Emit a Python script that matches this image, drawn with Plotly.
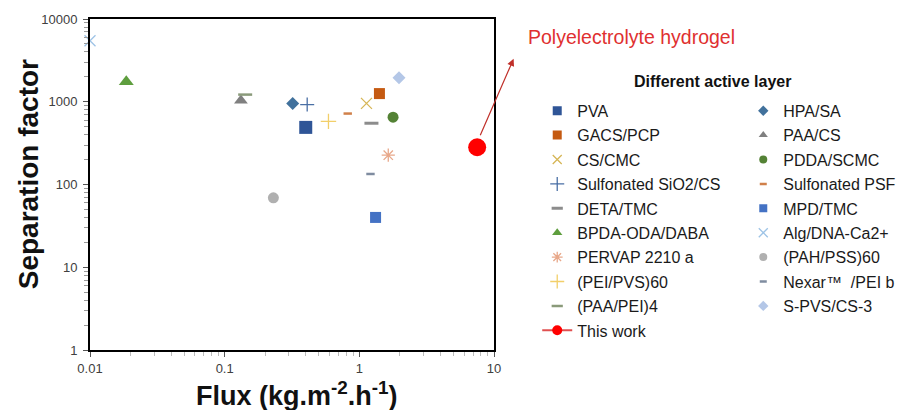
import plotly.graph_objects as go

# ---- data ----
names = ["PVA", "HPA/SA", "GACS/PCP", "PAA/CS", "CS/CMC", "PDDA/SCMC",
         "Sulfonated SiO2/CS", "Sulfonated PSF", "DETA/TMC", "MPD/TMC",
         "BPDA-ODA/DABA", "Alg/DNA-Ca2+", "PERVAP 2210 a", "(PAH/PSS)60",
         "(PEI/PVS)60", "Nexar\u2122  /PEI b", "(PAA/PEI)4", "S-PVS/CS-3", "This work"]
flux = [0.40, 0.32, 1.41, 0.132, 1.13, 1.78,
        0.41, 0.82, 1.23, 1.32,
        0.0186, 0.0100, 1.64, 0.230,
        0.59, 1.21, 0.142, 1.97, 7.5]
sep = [490, 955, 1255, 1035, 955, 650,
       925, 720, 550, 40,
       1750, 5450, 226, 69,
       580, 134, 1220, 1950, 282]
legend_col = [1, 2, 1, 2, 1, 2, 1, 2, 1, 2, 1, 2, 1, 2, 1, 2, 1, 2, 1]

x_tickvals = [0.01, 0.1, 1, 10]
x_ticktext = ["0.01", "0.1", "1", "10"]
y_tickvals = [1, 10, 100, 1000, 10000]
y_ticktext = ["1", "10", "100", "1000", "10000"]
x_minor = [m * d for d in (0.01, 0.1, 1) for m in range(2, 10)]
y_minor = [m * d for d in (1, 10, 100, 1000) for m in range(2, 10)]

# ---- styles: (symbol, plot size, legend size, colour, line width) ----
styles = {
    "PVA": ("square", 13, 9, "#2f5597", 0),
    "HPA/SA": ("diamond", 10, 8, "#41719c", 0),
    "GACS/PCP": ("square", 11, 9, "#c55a11", 0),
    "PAA/CS": ("triangle-up", 12, 8, "#808080", 0),
    "CS/CMC": ("x-thin", 11, 9, "#d6b656", 1.3),
    "PDDA/SCMC": ("circle", 11, 8, "#548235", 0),
    "Sulfonated SiO2/CS": ("cross-thin", 10, 10, "#4a6fa5", 1.3),
    "Sulfonated PSF": ("line-ew", 6, 5, "#d0804a", 2.5),
    "DETA/TMC": ("line-ew", 10, 8, "#8c8c8c", 3),
    "MPD/TMC": ("square", 11, 8, "#4472c4", 0),
    "BPDA-ODA/DABA": ("triangle-up", 13, 9, "#5e9e3e", 0),
    "Alg/DNA-Ca2+": ("x-thin", 11, 9, "#9dc3e6", 1.3),
    "PERVAP 2210 a": ("asterisk", 11, 9, "#e8a88a", 1.3),
    "(PAH/PSS)60": ("circle", 11, 8, "#b0b0b0", 0),
    "(PEI/PVS)60": ("cross-thin", 11, 10, "#f2cf6a", 1.3),
    "Nexar\u2122  /PEI b": ("line-ew", 6, 5, "#7f8ca0", 2.5),
    "(PAA/PEI)4": ("line-ew", 10, 8, "#8a9a7a", 2.5),
    "S-PVS/CS-3": ("diamond", 10, 8, "#b4c7e7", 0),
    "This work": ("circle", 18, 10, "#ff0000", 0),
}

fig = go.Figure()
for i, n in enumerate(names):
    sym, size, lsize, col, lw = styles[n]
    fig.add_trace(go.Scatter(
        x=[flux[i]], y=[sep[i]], name=n, mode="markers", showlegend=False,
        marker=dict(symbol=sym, size=size, color=col, line=dict(width=lw, color=col)),
        cliponaxis=False))
for i, n in enumerate(names):
    sym, size, lsize, col, lw = styles[n]
    kw = dict(mode="markers")
    if n == "This work":
        kw = dict(mode="lines+markers", line=dict(color="#e05050", width=2))
    fig.add_trace(go.Scatter(
        x=[None], y=[None], name=n, legendgroup=f"g{i}",
        legend="legend" if legend_col[i] == 1 else "legend2",
        marker=dict(symbol=sym, size=lsize, color=col, line=dict(width=lw, color=col)),
        **kw))

font_fam = "Liberation Sans, Arial, sans-serif"
legend_common = dict(font=dict(size=16, color="#1a1a1a", family=font_fam),
                     bgcolor="rgba(0,0,0,0)", traceorder="grouped", tracegroupgap=0.6,
                     itemsizing="trace", xanchor="left", yanchor="top",
                     itemwidth=30)

fig.update_layout(
    width=913, height=410,
    margin=dict(l=90, r=411, t=17, b=60),
    paper_bgcolor="white", plot_bgcolor="white",
    font=dict(family=font_fam),
    showlegend=True,
    legend=dict(x=1.107, y=0.774, **legend_common),
    legend2=dict(x=1.617, y=0.774, **legend_common),
    xaxis=dict(type="log", range=[-2, 1], tickvals=x_tickvals, ticktext=x_ticktext,
               showgrid=False, zeroline=False, showline=True, linecolor="black",
               linewidth=2, mirror=True, ticks="outside", ticklen=5, tickcolor="#555",
               tickfont=dict(size=13, color="#404040"), ticklabelstandoff=0,
               minor=dict(tickvals=x_minor, ticks="outside", ticklen=4,
                          tickcolor="#bbb", showgrid=False)),
    yaxis=dict(type="log", range=[0, 4], tickvals=y_tickvals, ticktext=y_ticktext,
               showgrid=False, zeroline=False, showline=True, linecolor="black",
               linewidth=2, mirror=True, ticks="outside", ticklen=5, tickcolor="#555",
               tickfont=dict(size=13, color="#404040"), ticklabelstandoff=3,
               minor=dict(tickvals=y_minor, ticks="outside", ticklen=4,
                          tickcolor="#999", showgrid=False)),
)

# axis titles
fig.add_annotation(text="<b>Separation factor</b>", xref="paper", yref="paper",
                   x=(27 - 90) / 412, y=(350 - 173) / 333, textangle=-90,
                   showarrow=False, font=dict(size=28, color="#111", family=font_fam),
                   xanchor="center", yanchor="middle")
fig.add_annotation(text="<b>Flux (kg.m<sup>-2</sup>.h<sup>-1</sup>)</b>", xref="paper",
                   yref="paper", x=(301 - 90) / 412, y=(350 - 394) / 333,
                   showarrow=False, font=dict(size=27, color="#111", family=font_fam),
                   xanchor="center", yanchor="middle")

fig.add_annotation(text="<b>Different active layer</b>", xref="paper", yref="paper",
                   x=(725 - 90) / 412, y=(350 - 80) / 333, showarrow=False,
                   font=dict(size=16, color="#111", family=font_fam),
                   xanchor="center", yanchor="middle")
fig.add_annotation(text="Polyelectrolyte hydrogel", xref="paper", yref="paper",
                   x=(535 - 90) / 412, y=(350 - 35) / 333, showarrow=False,
                   font=dict(size=19.5, color="#e03030", family=font_fam),
                   xanchor="left", yanchor="middle")
fig.add_annotation(text="", xref="paper", yref="paper",
                   x=(522 - 90) / 412, y=(350 - 57) / 333, ax=-34, ay=78,
                   showarrow=True, arrowhead=2, arrowsize=1.2, arrowwidth=1.2,
                   arrowcolor="#c0302a")

# remove the default 8 px page margin so the figure fills the window exactly
fig.write_html("out.html",
               config={"displayModeBar": False},
               post_script="document.body.style.margin='0';"
                           "document.body.style.overflow='hidden';")
